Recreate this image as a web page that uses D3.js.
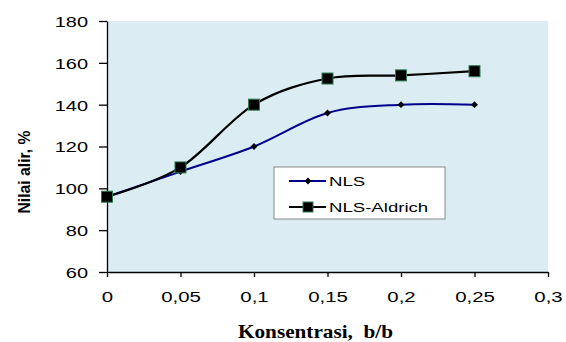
<!DOCTYPE html>
<html>
<head>
<meta charset="utf-8">
<script src="https://cdn.jsdelivr.net/npm/d3@7"></script>
<style>
	body { margin: 0; background: #fff; }
	svg { display: block; }
</style>
</head>
<body>
<div id="chart"></div>
<script>
'use strict'

var concentrations = [0, 0.05, 0.1, 0.15, 0.2, 0.25];
var nlsValues = [96, 108, 120, 136, 140, 140];
var aldrichValues = [96, 110, 140, 152.5, 154, 156];
var xTicks = [0, 0.05, 0.1, 0.15, 0.2, 0.25, 0.3];
var yTicks = [60, 80, 100, 120, 140, 160, 180];
var seriesNames = ['NLS', 'NLS-Aldrich'];

var SANS = 'Liberation Sans, Arial, sans-serif';

var chart = {
	width: 566,
	height: 342,
	padding: { top: 21, right: 18, bottom: 70, left: 107 },

	init: function() {
		var p = chart.padding;

		var svg = d3.select('#chart').append('svg')
			.attr('width', chart.width)
			.attr('height', chart.height);

		var x = d3.scaleLinear()
			.domain([0, 0.3])
			.range([p.left, chart.width - p.right]);

		var y = d3.scaleLinear()
			.domain([60, 180])
			.range([chart.height - p.bottom, p.top]);

		// plot background
		svg.append('rect')
			.attr('x', x(0))
			.attr('y', y(180))
			.attr('width', x(0.3) - x(0))
			.attr('height', y(60) - y(180))
			.attr('fill', '#dbedf3');

		var fmt = function(d) { return String(d).replace('.', ','); };

		var xAxis = svg.append('g')
			.attr('transform', 'translate(0,' + y(60) + ')')
			.call(d3.axisBottom(x).tickValues(xTicks).tickFormat(fmt).tickSize(5).tickSizeOuter(0));

		var yAxis = svg.append('g')
			.attr('transform', 'translate(' + x(0) + ',0)')
			.call(d3.axisLeft(y).tickValues(yTicks).tickSize(8).tickSizeOuter(0));

		[xAxis, yAxis].forEach(function(g) {
			g.select('.domain').attr('stroke', '#000').attr('stroke-width', 1.3);
			g.selectAll('.tick line').attr('stroke', '#000').attr('stroke-width', 1.3);
			g.selectAll('.tick text')
				.attr('fill', '#000')
				.style('font-family', SANS)
				.style('font-size', '15px');
		});
		xAxis.selectAll('.tick text').attr('y', 0).attr('dy', 29.5);
		yAxis.selectAll('.tick text').attr('x', -19).attr('dy', '0.36em');
		chart.stretch(xAxis.selectAll('.tick text'), 1.36);
		chart.stretch(yAxis.selectAll('.tick text'), 1.33);

		var line = d3.line()
			.x(function(d) { return x(d[0]); })
			.y(function(d) { return y(d[1]); })
			.curve(d3.curveCardinal.tension(0));

		var nls = concentrations.map(function(c, i) { return [c, nlsValues[i]]; });
		var aldrich = concentrations.map(function(c, i) { return [c, aldrichValues[i]]; });

		svg.append('path')
			.datum(nls)
			.attr('d', line)
			.attr('fill', 'none')
			.attr('stroke', '#00008c')
			.attr('stroke-width', 2);

		svg.append('path')
			.datum(aldrich)
			.attr('d', line)
			.attr('fill', 'none')
			.attr('stroke', '#000')
			.attr('stroke-width', 2.2);

		var diamond = d3.symbol().type(d3.symbolDiamond2).size(30);

		svg.selectAll('.nls-pt')
			.data(nls)
			.enter().append('path')
			.attr('class', 'nls-pt')
			.attr('transform', function(d) { return 'translate(' + x(d[0]) + ',' + y(d[1]) + ')'; })
			.attr('d', diamond)
			.attr('fill', '#000');

		svg.selectAll('.ald-pt')
			.data(aldrich)
			.enter().append('rect')
			.attr('class', 'ald-pt')
			.attr('x', function(d) { return x(d[0]) - 5.5; })
			.attr('y', function(d) { return y(d[1]) - 5.5; })
			.attr('width', 11)
			.attr('height', 11)
			.attr('fill', '#000')
			.attr('stroke', '#2f7a50')
			.attr('stroke-width', 1);

		chart.legend(svg);

		svg.append('text')
			.attr('transform', 'translate(30,172) scale(1.3,1) rotate(-90)')
			.attr('text-anchor', 'middle')
			.style('font-family', SANS)
			.style('font-weight', 'bold')
			.style('font-size', '13px')
			.attr('textLength', 83)
			.attr('lengthAdjust', 'spacingAndGlyphs')
			.text('Nilai alir, %');

		svg.append('text')
			.attr('x', 315.5)
			.attr('y', 337.5)
			.attr('text-anchor', 'middle')
			.attr('xml:space', 'preserve')
			.style('white-space', 'pre')
			.style('font-family', 'Liberation Serif, Times New Roman, serif')
			.style('font-weight', 'bold')
			.style('font-size', '19px')
			.attr('textLength', 155)
			.attr('lengthAdjust', 'spacingAndGlyphs')
			.text('Konsentrasi,  b/b');
	},

	// the source picture is stretched sideways, so widen text to match
	stretch: function(sel, factor) {
		sel.each(function() {
			var len = this.getComputedTextLength();
			d3.select(this)
				.attr('textLength', len * factor)
				.attr('lengthAdjust', 'spacingAndGlyphs');
		});
	},

	legend: function(svg) {
		var lg = svg.append('g').attr('transform', 'translate(274,167)');

		lg.append('rect')
			.attr('width', 171)
			.attr('height', 52)
			.attr('fill', '#fff')
			.attr('stroke', '#888')
			.attr('stroke-width', 1);

		var rows = lg.selectAll('.row')
			.data(seriesNames)
			.enter().append('g')
			.attr('transform', function(d, i) { return 'translate(0,' + (14 + i * 26) + ')'; });

		rows.append('line')
			.attr('x1', 15).attr('x2', 52)
			.attr('stroke', function(d, i) { return i === 0 ? '#00008c' : '#000'; })
			.attr('stroke-width', 2);

		rows.filter(function(d, i) { return i === 0; })
			.append('path')
			.attr('transform', 'translate(34,0)')
			.attr('d', d3.symbol().type(d3.symbolDiamond2).size(30))
			.attr('fill', '#000');

		rows.filter(function(d, i) { return i === 1; })
			.append('rect')
			.attr('x', 29).attr('y', -5)
			.attr('width', 10).attr('height', 10)
			.attr('fill', '#000')
			.attr('stroke', '#2f7a50');

		var labels = rows.append('text')
			.attr('x', 55)
			.attr('dy', '0.36em')
			.style('font-family', SANS)
			.style('font-size', '13px')
			.text(function(d) { return d; });
		chart.stretch(labels, 1.43);
	}
};

chart.init();
</script>
</body>
</html>
